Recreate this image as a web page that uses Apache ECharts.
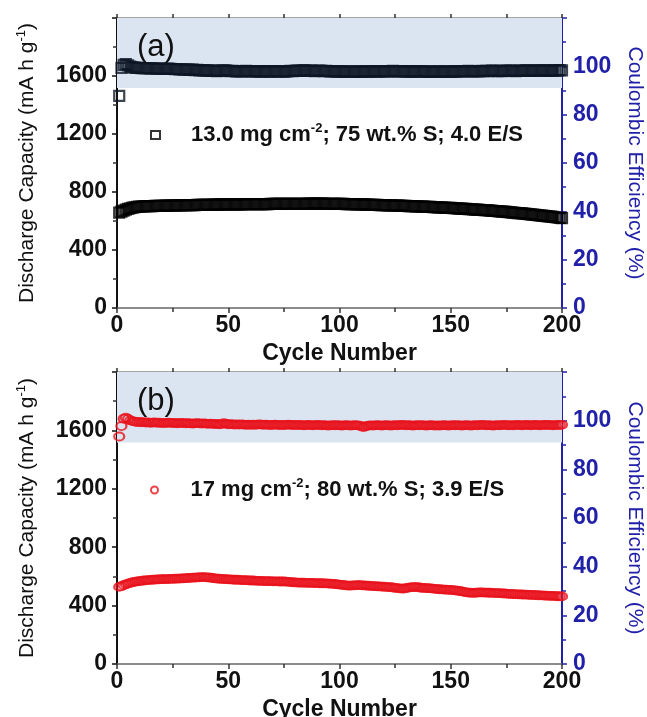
<!DOCTYPE html>
<html>
<head>
<meta charset="utf-8">
<script src="https://cdn.jsdelivr.net/npm/echarts@6/dist/echarts.min.js"></script>
<style>html,body{margin:0;padding:0;background:#fff}#c{width:647px;height:717px}</style>
</head>
<body>
<div id="c"></div>
<script>
// Cycle numbers run 1..200 (one value per cycle in each array below)
const xTicks = [0, 50, 100, 150, 200];
const capTicks = [0, 400, 800, 1200, 1600];
const ceTicks = [0, 20, 40, 60, 80, 100];

// (a) 13.0 mg cm-2 ; discharge capacity (mA h g-1)
const capA = [
658,665,672,678,683,688,692,695,697,699,700,701,702,702,703,703,704,704,705,705,
705,706,706,707,707,707,708,708,708,709,709,709,710,710,710,711,711,711,712,712,
712,712,713,713,713,713,714,714,714,714,714,715,715,715,715,715,716,716,716,716,
716,716,717,717,717,717,717,717,718,718,718,718,718,718,718,719,719,719,719,719,
719,719,719,719,719,720,720,720,720,720,720,720,720,719,719,719,719,719,718,718,
718,718,717,717,717,716,716,715,715,714,714,713,713,712,712,711,711,710,710,709,
709,708,708,707,707,706,706,705,705,704,703,703,702,701,701,700,699,699,698,697,
697,696,695,694,694,693,692,691,690,690,689,688,687,686,685,684,683,682,681,680,
679,678,677,676,675,674,673,672,670,669,668,667,665,664,663,661,660,658,657,655,
654,652,651,649,647,646,644,642,641,639,637,635,634,632,630,628,626,624,622,620];

// (a) Coulombic efficiency (%)
const ceA = [
87.8,99.4,100.6,100.9,100.4,99.9,99.6,99.5,99.4,99.4,99.3,99.3,99.2,99.2,99.1,99.2,99.1,99.0,99.1,99.0,
98.9,99.0,99.1,99.0,98.9,98.8,98.9,98.7,98.8,98.6,98.7,98.6,98.5,98.6,98.4,98.5,98.3,98.4,98.3,98.2,
98.3,98.1,98.2,98.1,98.0,98.1,98.2,98.3,98.2,98.1,98.0,98.1,98.0,97.9,98.0,97.9,98.0,98.1,98.0,97.9,
98.0,97.9,98.0,97.9,97.8,97.9,98.0,97.9,97.8,97.9,98.0,97.9,98.0,97.9,97.8,97.9,98.0,98.1,98.0,98.1,
98.2,98.1,98.2,98.3,98.2,98.1,98.2,98.1,98.0,98.1,98.2,98.1,98.0,98.1,98.0,97.9,98.0,97.9,97.8,97.9,
97.8,97.9,97.8,97.7,97.8,97.7,97.8,97.9,97.8,97.7,97.8,97.9,97.8,97.9,98.0,97.9,97.8,97.9,98.0,97.9,
98.0,97.9,98.0,98.1,98.0,97.9,98.0,97.9,98.0,97.9,97.8,97.9,97.8,97.9,98.0,97.9,97.8,97.9,97.8,97.7,
97.8,97.7,97.8,97.9,97.8,97.7,97.8,97.9,97.8,97.7,97.8,97.9,98.0,97.9,98.0,97.9,98.0,98.1,98.0,97.9,
98.0,97.9,98.0,98.1,98.0,98.1,98.0,98.1,98.2,98.1,98.0,98.1,98.0,98.1,98.2,98.1,98.2,98.1,98.0,98.1,
98.2,98.1,98.2,98.3,98.2,98.1,98.2,98.1,98.2,98.3,98.2,98.3,98.2,98.1,98.2,98.3,98.2,98.3,98.4,98.3];

// (b) 17 mg cm-2 ; discharge capacity (mA h g-1)
const capB = [
528,533,540,546,551,556,560,563,566,568,570,572,573,575,576,577,578,579,580,581,
581,582,582,583,583,584,585,585,586,587,588,589,590,591,592,593,594,595,595,594,
593,591,589,587,585,584,583,582,581,580,579,578,577,577,576,575,574,574,573,572,
572,571,570,570,569,568,568,567,567,566,566,566,565,565,565,564,563,561,560,559,
558,558,557,557,556,556,555,555,554,554,553,553,552,552,551,550,549,548,546,544,
542,540,538,537,537,538,539,540,540,539,538,537,536,535,534,533,532,531,530,529,
528,527,526,524,522,520,518,516,517,520,523,525,527,527,526,524,522,521,520,519,
518,516,515,513,512,511,510,509,508,507,506,504,502,500,497,494,491,489,488,487,
488,489,490,490,489,489,488,488,487,486,486,485,484,483,482,481,480,479,478,477,
477,476,475,475,474,473,473,472,471,470,470,469,468,467,467,466,465,464,464,463];

// (b) Coulombic efficiency (%)
const ceB = [
93.5,97.8,100.8,101.2,100.7,100.1,99.8,99.6,99.4,99.5,99.3,99.4,99.2,99.3,99.1,99.2,99.3,99.1,99.2,99.0,
99.1,99.0,99.2,99.1,99.0,99.1,98.9,99.0,99.1,99.0,98.9,99.0,98.9,98.8,98.9,99.0,98.9,98.8,98.9,98.8,
98.7,98.8,98.7,98.6,98.7,98.5,98.6,99.0,98.7,98.5,98.6,98.5,98.4,98.5,98.4,98.5,98.4,98.3,98.4,98.3,
98.4,98.3,98.4,98.5,98.4,98.3,98.4,98.3,98.2,98.3,98.4,98.3,98.2,98.3,98.2,98.3,98.4,98.3,98.2,98.3,
98.2,98.3,98.2,98.1,98.2,98.3,98.2,98.1,98.2,98.3,98.2,98.1,98.2,98.1,98.0,98.1,98.2,98.1,98.2,98.1,
98.0,98.1,98.2,98.1,98.0,98.1,98.2,98.1,98.0,97.6,97.4,97.8,98.0,98.1,98.0,98.1,98.2,98.1,98.0,98.1,
98.2,98.1,98.0,98.1,98.2,98.1,98.2,98.3,98.2,98.1,98.2,98.1,98.0,98.1,98.2,98.1,98.2,98.1,98.0,98.1,
98.2,98.1,98.0,98.1,98.0,98.1,98.2,98.1,98.0,98.1,98.2,98.1,98.2,98.1,98.0,98.1,98.2,98.1,98.0,98.1,
98.2,98.1,98.2,98.3,98.2,98.1,98.2,98.1,98.0,98.1,98.2,98.1,98.2,98.3,98.2,98.1,98.2,98.1,98.2,98.3,
98.2,98.1,98.2,98.3,98.2,98.1,98.2,98.3,98.2,98.1,98.2,98.3,98.2,98.3,98.2,98.1,98.2,98.3,98.2,98.3];

const shadeFrom = 91, shadeTo = 120; // CE band shaded, right-axis units

const FF = "'Liberation Sans', Arial, sans-serif";
const BLUE = '#2020a8';
const BLACK = '#111';
const RED = '#e8121b';

const pairs = arr => arr.map((v, i) => [i + 1, v]);

function xAxes(gi) {
  return [{
    type: 'value', gridIndex: gi, min: 0, max: 200, interval: 50, position: 'bottom',
    axisLine: {show: true, onZero: false, lineStyle: {color: '#666', width: 1.5}},
    axisTick: {show: true, inside: false, length: 5, lineStyle: {color: '#333', width: 1.5}},
    minorTick: {show: true, splitNumber: 2, length: 4, lineStyle: {color: '#333', width: 1.5}},
    splitLine: {show: false},
    axisLabel: {fontFamily: FF, fontWeight: 'bold', fontSize: 23, color: BLACK, margin: 6,
      formatter: v => xTicks.includes(v) ? String(v) : ''},
    name: 'Cycle Number', nameLocation: 'middle', nameGap: 34,
    nameTextStyle: {fontFamily: FF, fontWeight: 'bold', fontSize: 23, color: BLACK}
  }, {
    type: 'value', gridIndex: gi, min: 0, max: 200, interval: 50, position: 'top',
    axisLine: {show: true, onZero: false, lineStyle: {color: '#888', width: 1.5}},
    axisTick: {show: true, inside: false, length: 4, lineStyle: {color: '#333', width: 1.5}},
    minorTick: {show: true, splitNumber: 2, length: 4, lineStyle: {color: '#333', width: 1.5}},
    splitLine: {show: false}, axisLabel: {show: false}
  }];
}

function yAxes(gi) {
  return [{
    type: 'value', gridIndex: gi, min: 0, max: 2000, interval: 400, position: 'left',
    axisLine: {show: true, onZero: false, lineStyle: {color: BLACK, width: 2}},
    axisTick: {show: true, length: 5, lineStyle: {color: BLACK, width: 1.5}},
    minorTick: {show: true, splitNumber: 2, length: 4, lineStyle: {color: '#333', width: 1.5}},
    splitLine: {show: false},
    axisLabel: {fontFamily: FF, fontWeight: 'bold', fontSize: 23, color: BLACK, margin: 10,
      formatter: v => capTicks.includes(v) ? String(v) : ''},
    name: '{t|Discharge Capacity (mA h g}{s|-1}{t|)}', nameLocation: 'middle', nameRotate: 90, nameGap: 78,
    nameTextStyle: {rich: {
      t: {fontFamily: FF, fontSize: 21, color: BLACK, lineHeight: 24},
      s: {fontFamily: FF, fontSize: 13, color: BLACK, verticalAlign: 'top', lineHeight: 14}
    }}
  }, {
    type: 'value', gridIndex: gi, min: 0, max: 120, interval: 20, position: 'right',
    axisLine: {show: true, onZero: false, lineStyle: {color: BLUE, width: 2}},
    axisTick: {show: true, length: 5, lineStyle: {color: BLUE, width: 1.5}},
    minorTick: {show: true, splitNumber: 2, length: 4, lineStyle: {color: BLUE, width: 1.5}},
    splitLine: {show: false},
    axisLabel: {fontFamily: FF, fontWeight: 'bold', fontSize: 23, color: BLUE, margin: 11,
      formatter: v => ceTicks.includes(v) ? String(v) : ''},
    name: 'Coulombic Efficiency (%)', nameLocation: 'middle', nameRotate: -90, nameGap: 62,
    nameTextStyle: {fontFamily: FF, fontSize: 21, color: BLUE}
  }];
}

const legendRich = {
  sp: {width: 26},
  t: {fontFamily: FF, fontWeight: 'bold', fontSize: 22, color: BLACK, lineHeight: 26},
  s: {fontFamily: FF, fontWeight: 'bold', fontSize: 13, color: BLACK, verticalAlign: 'top', lineHeight: 14}
};

const option = {
  animation: false,
  backgroundColor: '#fff',
  title: [
    {text: '(a)', left: 132, top: 27, textStyle: {fontFamily: FF, fontSize: 31, fontWeight: 'normal', color: BLACK}},
    {text: '(b)', left: 132, top: 381, textStyle: {fontFamily: FF, fontSize: 31, fontWeight: 'normal', color: BLACK}}
  ],
  grid: [
    {left: 117, right: 85, top: 18, height: 290, containLabel: false, outerBoundsMode: 'none'},
    {left: 117, right: 85, top: 372, height: 292, containLabel: false, outerBoundsMode: 'none'}
  ],
  xAxis: [...xAxes(0), ...xAxes(1)],
  yAxis: [...yAxes(0), ...yAxes(1)],
  legend: [
    {data: ['capA'], left: 150, top: 122, itemWidth: 9, itemHeight: 8, padding: 0,
     formatter: () => '{sp|}{t|13.0 mg cm}{s|-2}{t|; 75 wt.% S; 4.0 E/S}', textStyle: {rich: legendRich}},
    {data: ['capB'], left: 150, top: 477, itemWidth: 10, itemHeight: 7, padding: 0,
     formatter: () => '{sp|}{t|17 mg cm}{s|-2}{t|; 80 wt.% S; 3.9 E/S}', textStyle: {rich: legendRich}}
  ],
  series: [
    {name: 'ceA', type: 'scatter', xAxisIndex: 0, yAxisIndex: 1, data: pairs(ceA),
     symbol: 'rect', symbolSize: 10,
     itemStyle: {color: 'rgba(0,0,0,0)', borderColor: '#0d1726', borderWidth: 2.2},
     markArea: {silent: true, itemStyle: {color: '#dbe5f1'}, data: [[{yAxis: shadeFrom}, {yAxis: shadeTo}]]},
     z: 3},
    {name: 'capA', type: 'scatter', xAxisIndex: 0, yAxisIndex: 0, data: pairs(capA),
     symbol: 'rect', symbolSize: 10,
     itemStyle: {color: 'rgba(0,0,0,0)', borderColor: '#000', borderWidth: 2.2}, z: 3},
    {name: 'ceB', type: 'scatter', xAxisIndex: 2, yAxisIndex: 3, data: pairs(ceB),
     symbol: 'circle', symbolSize: [10, 8],
     itemStyle: {color: 'rgba(0,0,0,0)', borderColor: RED, borderWidth: 2},
     markArea: {silent: true, itemStyle: {color: '#dbe5f1'}, data: [[{yAxis: shadeFrom}, {yAxis: shadeTo}]]},
     z: 3},
    {name: 'capB', type: 'scatter', xAxisIndex: 2, yAxisIndex: 2, data: pairs(capB),
     symbol: 'circle', symbolSize: [10, 8],
     itemStyle: {color: 'rgba(0,0,0,0)', borderColor: RED, borderWidth: 2}, z: 3}
  ]
};

const chart = echarts.init(document.getElementById('c'), null, {renderer: 'canvas'});
chart.setOption(option);
</script>
</body>
</html>
